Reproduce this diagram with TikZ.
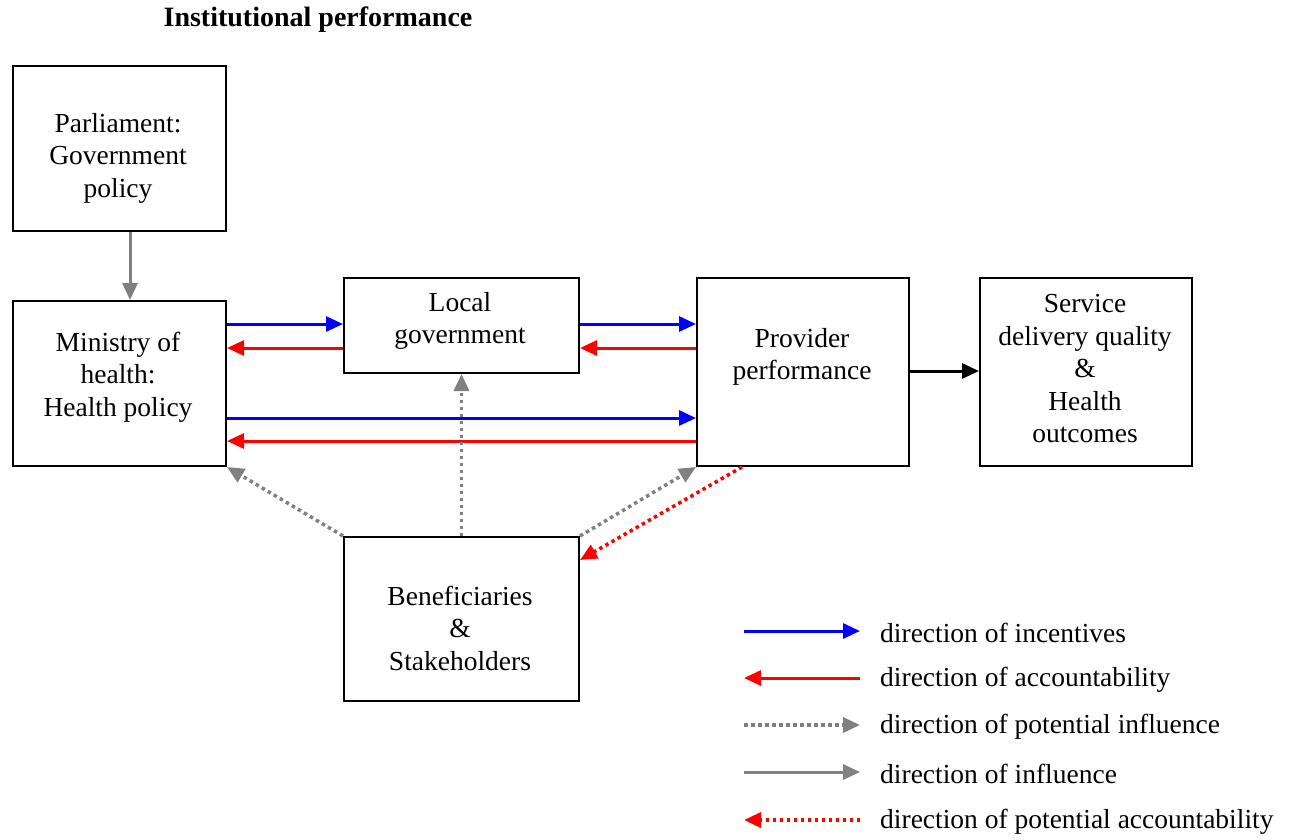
\documentclass[tikz,border=0pt]{standalone}
\usepackage{fontspec}
\setmainfont{Liberation Serif}
\usetikzlibrary{arrows.meta,calc}
\definecolor{ablue}{RGB}{0,0,255}
\definecolor{ared}{RGB}{255,0,0}
\definecolor{agray}{RGB}{128,128,128}
\begin{document}
\begin{tikzpicture}[x=1pt,y=-1pt,
  box/.style={draw=black,line width=2pt,anchor=north west,inner sep=0pt},
  txt/.style={align=center,font=\fontsize{27.5}{32.5}\selectfont,inner sep=0pt},
  tip/.style={-{Triangle[length=17pt,width=15pt]}},
  incent/.style={tip,draw=ablue,line width=3pt},
  account/.style={tip,draw=ared,line width=3pt},
  potinf/.style={tip,draw=agray,line width=3.5pt,dash pattern=on 3.5pt off 3.5pt},
  infl/.style={tip,draw=agray,line width=3pt},
  potacc/.style={tip,draw=ared,line width=3.5pt,dash pattern=on 3.5pt off 3.5pt},
  outc/.style={tip,draw=black,line width=3pt},
  legtxt/.style={anchor=west,font=\fontsize{27.5}{30}\selectfont,inner sep=0pt}]
\useasboundingbox (0,0) rectangle (1297,839);
\node[anchor=center,font=\bfseries\fontsize{28}{30}\selectfont] (title) at (318,20) {Institutional performance};
% boxes
\node[box,minimum width=213pt,minimum height=165pt] (parl) at (12,65) {};
\node[box,minimum width=213pt,minimum height=165pt] (min) at (12,300) {};
\node[box,minimum width=235pt,minimum height=95pt] (loc) at (343,277) {};
\node[box,minimum width=212pt,minimum height=188pt] (prov) at (696,277) {};
\node[box,minimum width=212pt,minimum height=188pt] (serv) at (979,277) {};
\node[box,minimum width=235pt,minimum height=164pt] (ben) at (343,536) {};
% texts
\node[txt] (parl-t) at (118,158) {Parliament:\\Government\\policy};
\node[txt] (min-t) at (118,377) {Ministry of\\health:\\Health policy};
\node[txt] (loc-t) at (460,321) {Local\\government};
\node[txt] (prov-t) at (802,357) {Provider\\performance};
\node[txt] (serv-t) at (1085,369) {Service\\delivery quality\\\&\\Health\\outcomes};
\node[txt] (ben-t) at (460,628) {Beneficiaries\\\&\\Stakeholders};
% connectors
\draw[infl] ($(parl.south west)+(118,0)$) -- ($(min.north west)+(118,0)$);
\draw[incent] ($(min.north east)+(0,24)$) -- ($(loc.north west)+(0,47)$);
\draw[account] ($(loc.north west)+(0,71)$) -- ($(min.north east)+(0,48)$);
\draw[incent] ($(loc.north east)+(0,47)$) -- ($(prov.north west)+(0,47)$);
\draw[account] ($(prov.north west)+(0,71)$) -- ($(loc.north east)+(0,71)$);
\draw[incent] ($(min.north east)+(0,118)$) -- ($(prov.north west)+(0,141)$);
\draw[account] ($(prov.north west)+(0,164)$) -- ($(min.north east)+(0,141)$);
\draw[outc] ($(prov.north east)+(0,94)$) -- ($(serv.north west)+(0,94)$);
\draw[potinf] (ben.north west) -- (min.south east);
\draw[potinf] (ben.north) -- (loc.south);
\draw[potinf] (ben.north east) -- (prov.south west);
\draw[potacc] ($(prov.south west)+(46,0)$) -- ($(ben.north east)+(0,24)$);
% legend
\coordinate (l1a) at (744,631); \coordinate (l1b) at (860,631);
\coordinate (l2a) at (744,678); \coordinate (l2b) at (860,678);
\coordinate (l3a) at (744,725); \coordinate (l3b) at (860,725);
\coordinate (l4a) at (744,772); \coordinate (l4b) at (860,772);
\coordinate (l5a) at (744,820); \coordinate (l5b) at (860,820);
\draw[incent] (l1a) -- (l1b);
\draw[account] (l2b) -- (l2a);
\draw[potinf] (l3a) -- (l3b);
\draw[infl] (l4a) -- (l4b);
\draw[potacc] (l5b) -- (l5a);
\node[legtxt] (t1) at (880,633) {direction of incentives};
\node[legtxt] (t2) at (880,680) {direction of accountability};
\node[legtxt] (t3) at (880,727) {direction of potential influence};
\node[legtxt] (t4) at (880,774) {direction of influence};
\node[legtxt] (t5) at (880,822) {direction of potential accountability};
\end{tikzpicture}
\end{document}
